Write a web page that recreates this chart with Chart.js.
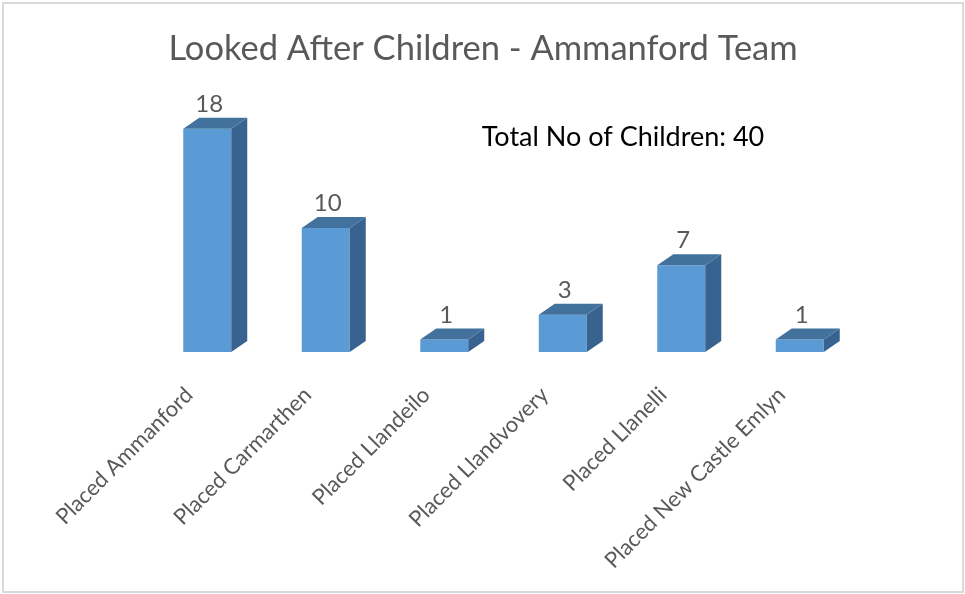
<!DOCTYPE html>
<html>
<head>
<meta charset="utf-8">
<script src="https://cdn.jsdelivr.net/npm/chart.js@4.4.1/dist/chart.umd.min.js"></script>
<style>
    body { margin: 0; background: #fff; }
    #caixa { position: absolute; left: 0; top: 0; width: 965px; height: 594px; }
    #borda { position: absolute; left: 2px; top: 2px; width: 958px; height: 587px; border: 2px solid #d9d9d9; pointer-events: none; }
</style>
</head>
<body>
<div id="caixa">
    <canvas id="grafico" width="965" height="594"></canvas>
    <div id="borda"></div>
</div>
<script>
// dados do grafico
const categorias = ["Placed Ammanford", "Placed Carmarthen", "Placed Llandeilo", "Placed Llandvovery", "Placed Llanelli", "Placed New Castle Emlyn"];
const valores = [18, 10, 1, 3, 7, 1];
const titulo = "Looked After Children - Ammanford Team";
const textoTotal = "Total No of Children: 40";

const fonte = "Lato, 'Open Sans', sans-serif";
const corFrente = "#5b9bd5";
const corTopo = "#41719c";
const corLado = "#386390";
const profX = 16;
const profY = 11;

// desenha topo e lateral das barras (efeito 3D) + rotulos
const plugin3D = {
    id: 'barras3D',
    afterDatasetsDraw(chart) {
        const ctx = chart.ctx;
        const meta = chart.getDatasetMeta(0);
        ctx.save();
        meta.data.forEach((bar, i) => {
            const p = bar.getProps(['x', 'y', 'base', 'width'], true);
            const esq = p.x - p.width / 2;
            const dir = p.x + p.width / 2;
            // lateral
            ctx.fillStyle = corLado;
            ctx.beginPath();
            ctx.moveTo(dir, p.y);
            ctx.lineTo(dir + profX, p.y - profY);
            ctx.lineTo(dir + profX, p.base - profY);
            ctx.lineTo(dir, p.base);
            ctx.closePath();
            ctx.fill();
            // topo
            ctx.fillStyle = corTopo;
            ctx.beginPath();
            ctx.moveTo(esq, p.y);
            ctx.lineTo(esq + profX, p.y - profY);
            ctx.lineTo(dir + profX, p.y - profY);
            ctx.lineTo(dir, p.y);
            ctx.closePath();
            ctx.fill();
            // rotulo
            ctx.fillStyle = "#595959";
            ctx.font = "24px " + fonte;
            ctx.textAlign = "center";
            ctx.textBaseline = "alphabetic";
            ctx.fillText(String(valores[i]), p.x + 2, p.y - profY - 6);
        });
        ctx.restore();
    },
    afterDraw(chart) {
        const ctx = chart.ctx;
        ctx.save();
        ctx.textAlign = "center";
        ctx.textBaseline = "alphabetic";
        ctx.fillStyle = "#595959";
        ctx.font = "34.5px " + fonte;
        ctx.fillText(titulo, 483, 60);
        ctx.fillStyle = "#000000";
        ctx.font = "27px " + fonte;
        ctx.fillText(textoTotal, 623, 146);
        ctx.restore();
    }
};

new Chart(document.getElementById('grafico'), {
    type: 'bar',
    data: {
        labels: categorias,
        datasets: [{
            data: valores,
            backgroundColor: corFrente,
            borderWidth: 0,
            categoryPercentage: 1,
            barPercentage: 0.405
        }]
    },
    options: {
        responsive: false,
        animation: false,
        events: [],
        layout: { padding: { left: 148, right: 106, top: 104, bottom: 0 } },
        plugins: {
            legend: { display: false },
            title: { display: false },
            tooltip: { enabled: false }
        },
        scales: {
            x: {
                grid: { display: false },
                border: { display: false },
                ticks: {
                    color: "#595959",
                    font: { family: fonte, size: 22 },
                    minRotation: 45,
                    maxRotation: 45,
                    padding: 22,
                    labelOffset: -18,
                    autoSkip: false
                },
                afterFit(scale) { scale.height = 242; }
            },
            y: {
                display: false,
                min: 0,
                max: 20
            }
        }
    },
    plugins: [plugin3D]
});
</script>
</body>
</html>
